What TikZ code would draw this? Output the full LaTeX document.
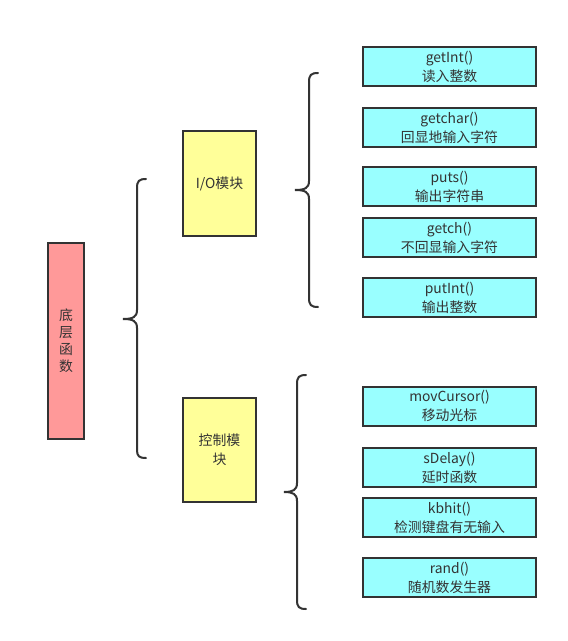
\documentclass[tikz,border=0pt]{standalone}
\usepackage{fontspec}
\setmainfont{Noto Sans CJK SC}
\begin{document}
\begin{tikzpicture}[x=0.75pt,y=-0.75pt,
  box/.style={draw=boxline,line width=1.5pt,inner sep=0pt,outer sep=0pt,align=center,
    font=\fontsize{10.4pt}{14.2pt}\selectfont,text=txt},
  pinkbox/.style={box,fill=pinkc,minimum width=27pt,minimum height=147pt,
    font=\fontsize{10.4pt}{12.8pt}\selectfont},
  yellowbox/.style={box,fill=yellowc,minimum width=54.75pt,minimum height=78.5pt},
  cyanbox/.style={box,fill=cyanc,minimum width=129.75pt,minimum height=29.25pt},
  bracel/.style={draw=boxline,line width=1.5pt,line cap=round}]
\definecolor{pinkc}{HTML}{FF9999}
\definecolor{yellowc}{HTML}{FFFF99}
\definecolor{cyanc}{HTML}{99FFFF}
\definecolor{boxline}{HTML}{333333}
\definecolor{txt}{HTML}{333333}
\useasboundingbox (0,0) rectangle (567,641);
\fill[white] (0,0) rectangle (567,641);

\node[pinkbox] (base) at (66,341) {底\\层\\函\\数};
\node[yellowbox] (io) at (219.5,183.5) {I/O模块};
\node[yellowbox] (ctrl) at (219.5,450) {控制模\\块};

\node[cyanbox] (getint) at (449.5,66.5) {getInt()\\读入整数};
\node[cyanbox] (getchar) at (449.5,127.5) {getchar()\\回显地输入字符};
\node[cyanbox] (puts) at (449.5,187) {puts()\\输出字符串};
\node[cyanbox] (getch) at (449.5,237.5) {getch()\\不回显输入字符};
\node[cyanbox] (putint) at (449.5,297.5) {putInt()\\输出整数};

\node[cyanbox] (movcursor) at (449.5,406) {movCursor()\\移动光标};
\node[cyanbox] (sdelay) at (449.5,467.5) {sDelay()\\延时函数};
\node[cyanbox] (kbhit) at (449.5,517.5) {kbhit()\\检测键盘有无输入};
\node[cyanbox] (rand) at (449.5,577.5) {rand()\\随机数发生器};

% big brace
\draw[bracel] (146,179) .. controls (139,179) and (137,181) .. (137,188)
  -- (137,310) .. controls (137,317) and (133,319) .. (123,319)
  .. controls (133,319) and (137,321) .. (137,328)
  -- (137,450) .. controls (137,456) and (139,458) .. (146,458);
% upper brace
\draw[bracel] (318,73) .. controls (311,73) and (309,75) .. (309,82)
  -- (309,181) .. controls (309,188) and (305,190) .. (295,190)
  .. controls (305,190) and (309,192) .. (309,199)
  -- (309,298) .. controls (309,305) and (311,307) .. (318,307);
% lower brace
\draw[bracel] (306,375) .. controls (299,375) and (297,377) .. (297,384)
  -- (297,483) .. controls (297,490) and (293,492) .. (284,492)
  .. controls (293,492) and (297,494) .. (297,501)
  -- (297,600) .. controls (297,607) and (299,609) .. (306,609);
\end{tikzpicture}
\end{document}
